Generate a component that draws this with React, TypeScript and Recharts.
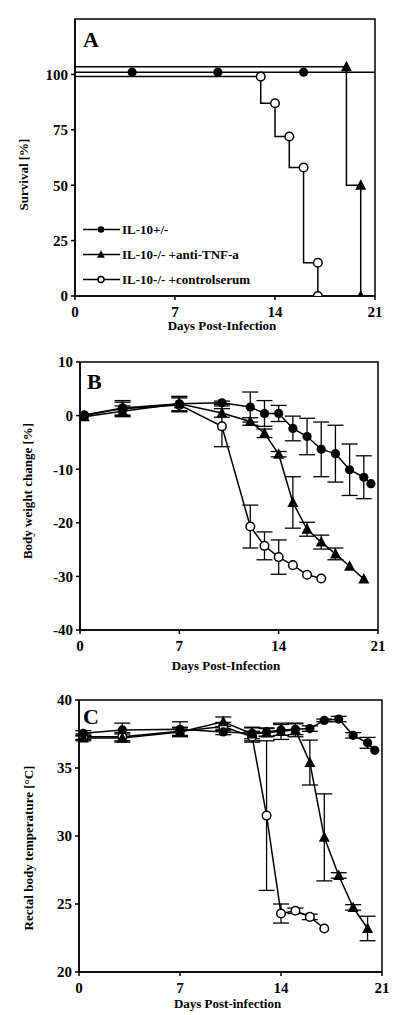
import { LineChart, Line, XAxis, YAxis, ErrorBar, ReferenceArea } from "recharts";

const FONT = '"Liberation Serif", "Times New Roman", serif';

const groups = ["IL-10+/-", "IL-10-/- +anti-TNF-a", "IL-10-/- +controlserum"];
const dayTicks = [0, 7, 14, 21];

// A: survival (step curves), mark = drawn symbol
const survHetDays = [0, 4, 10, 16, 21];
const survHet = [101, 101, 101, 101, 101];
const survHetMark = [false, true, true, true, false];
const survTnfDays = [0, 19, 20, 20];
const survTnf = [103.5, 103.5, 50, 0];
const survTnfMark = [false, true, true, true];
const survCtlDays = [0, 13, 14, 15, 16, 17, 17];
const survCtl = [99, 99, 87, 72, 58, 15, 0];
const survCtlMark = [false, true, true, true, true, true, true];
const survTicks = [0, 25, 50, 75, 100];

// B: body weight change
const wHetDays = [0.3, 3, 7, 10, 12, 13, 14, 15, 16, 17, 18, 19, 20, 20.5];
const wHet = [0.1, 1.4, 2.2, 2.4, 1.6, 0.4, 0.4, -2.4, -3.9, -6.3, -7.1, -10.1, -11.5, -12.7];
const wHetErr = [0, 1.4, 1.3, 0.3, 2.8, 2.4, 1.5, 2.3, 3.4, 5.1, 5.3, 4.8, 4.0, 0];
const wTnfDays = [0.3, 3, 7, 10, 12, 13, 14, 15, 16, 17, 18, 19, 20];
const wTnf = [-0.2, 0.8, 2.2, 0.5, -1.1, -3.3, -7.2, -16.2, -21.2, -23.6, -25.8, -28.1, -30.5];
const wTnfErr = [0, 1, 1.4, 0.8, 0.7, 0.8, 0.5, 4.8, 1.3, 1.3, 1.1, 0, 0];
const wCtlDays = [0.3, 3, 7, 10, 12, 13, 14, 15, 16, 17];
const wCtl = [0, 1.3, 2.0, -2.0, -20.7, -24.3, -26.4, -27.9, -29.7, -30.4];
const wCtlErr = [0, 1.2, 1.3, 3.8, 4.0, 2.6, 3.2, 0, 0, 0];
const weightTicks = [-40, -30, -20, -10, 0, 10];

// C: rectal temperature
const tHetDays = [0.3, 3, 7, 10, 12, 13, 14, 15, 16, 17, 18, 19, 20, 20.5];
const tHet = [37.55, 37.8, 37.85, 37.65, 37.55, 37.65, 37.8, 37.85, 37.9, 38.5, 38.6, 37.4, 36.85, 36.3];
const tHetErr = [0.2, 0.5, 0.55, 0.2, 0.4, 0.3, 0.4, 0.4, 0.2, 0.1, 0.2, 0.2, 0.4, 0];
const tTnfDays = [0.3, 3, 7, 10, 12, 13, 14, 15, 16, 17, 18, 19, 20];
const tTnf = [37.2, 37.2, 37.65, 38.4, 37.5, 37.6, 37.7, 37.8, 35.4, 29.9, 27.1, 24.75, 23.2];
const tTnfErr = [0.2, 0.3, 0.3, 0.35, 0.5, 0.3, 0.6, 0.5, 1.65, 3.2, 0.2, 0.2, 0.9];
const tCtlDays = [0.3, 3, 7, 10, 12, 13, 14, 15, 16, 17];
const tCtl = [37.3, 37.3, 37.7, 38.05, 37.3, 31.5, 24.3, 24.5, 24.05, 23.2];
const tCtlErr = [0.2, 0.3, 0.3, 0.3, 0.4, 5.5, 0.7, 0.2, 0.2, 0];
const tempTicks = [20, 25, 30, 35, 40];

const rows = (days, vals, errs?, marks?) =>
  days.map((d, i) => ({ day: d, v: vals[i], err: errs ? errs[i] : 0, mark: marks ? marks[i] : true }));

const Marker = ({ kind, cx, cy, s = 1 }) => {
  if (kind === "tri") {
    const w = 5.5 * s;
    return (
      <polygon
        points={`${cx},${cy - 6 * s} ${cx + w},${cy + 4.5 * s} ${cx - w},${cy + 4.5 * s}`}
        fill="#000"
      />
    );
  }
  if (kind === "open")
    return <circle cx={cx} cy={cy} r={4.3 * s} fill="#fff" stroke="#000" strokeWidth={1.5} />;
  return <circle cx={cx} cy={cy} r={4.6 * s} fill="#000" />;
};

const dotFor = (kind) => (p) => {
  const { cx, cy, index, payload } = p;
  if (!payload || payload.mark === false || cx == null) return <g key={`n${index}`} />;
  return <Marker key={`m${index}`} kind={kind} cx={cx} cy={cy} />;
};

const tickStyle = { fill: "#000", fontSize: 15, fontWeight: 700, fontFamily: FONT };
const titleStyle = { fill: "#000", fontSize: 13, fontWeight: 700, fontFamily: FONT };

function Panel({ top, height, margin, yWidth, domain, yTicks, yTitle, yShift, xTitle, xShift, letter, letterOffset, series, step }) {
  return (
    <div style={{ position: "absolute", left: 0, top }}>
      <LineChart width={400} height={height} margin={margin}>
        <XAxis
          type="number"
          dataKey="day"
          domain={[0, 21]}
          ticks={dayTicks}
          allowDataOverflow
          height={40}
          tick={tickStyle}
          tickSize={4}
          tickMargin={6}
          axisLine={{ stroke: "#000", strokeWidth: 1.5 }}
          tickLine={{ stroke: "#000", strokeWidth: 1.5 }}
          label={{ value: xTitle, position: "center", dx: -3, dy: xShift, ...titleStyle }}
        />
        <YAxis
          type="number"
          domain={domain}
          ticks={yTicks}
          allowDataOverflow
          width={yWidth}
          tick={tickStyle}
          tickSize={4}
          tickMargin={3}
          axisLine={{ stroke: "#000", strokeWidth: 1.5 }}
          tickLine={{ stroke: "#000", strokeWidth: 1.5 }}
          label={{ value: yTitle, angle: -90, position: "center", dx: yShift[0], dy: yShift[1], ...titleStyle }}
        />
        <ReferenceArea
          x1={0}
          x2={21}
          y1={domain[0]}
          y2={domain[1]}
          fill="none"
          stroke="#000"
          strokeWidth={1.5}
          ifOverflow="visible"
          label={{
            value: letter,
            position: "insideTopLeft",
            offset: letterOffset[0],
            dy: letterOffset[1],
            fill: "#000",
            fontSize: 22,
            fontWeight: 700,
            fontFamily: FONT,
          }}
        />
        {series.map((s) => (
          <Line
            key={s.name}
            name={s.name}
            data={s.data}
            dataKey="v"
            type={step ? "stepBefore" : "linear"}
            stroke="#000"
            strokeWidth={1.5}
            dot={dotFor(s.kind)}
            activeDot={false}
            isAnimationActive={false}
          >
            {!step && <ErrorBar dataKey="err" direction="y" width={8} stroke="#000" strokeWidth={1.3} />}
          </Line>
        ))}
      </LineChart>
    </div>
  );
}

const LegendBox = () => (
  <div style={{ position: "absolute", left: 83, top: 217, fontFamily: FONT, fontSize: 13, fontWeight: 700 }}>
    {groups.map((g, i) => (
      <div key={g} style={{ display: "flex", alignItems: "center", height: 25 }}>
        <svg width={37} height={25}>
          <line x1={0} y1={12.5} x2={37} y2={12.5} stroke="#000" strokeWidth={1.5} />
          <Marker kind={["fill", "tri", "open"][i]} cx={18} cy={12.5} s={0.7} />
        </svg>
        <span style={{ marginLeft: 2, whiteSpace: "nowrap" }}>{g}</span>
      </div>
    ))}
  </div>
);

export default function App() {
  return (
    <div style={{ position: "absolute", left: 0, top: 0, width: 400, height: 1015, background: "#fff" }}>
      <Panel
        top={0}
        height={340}
        margin={{ top: 19, right: 25, bottom: 4, left: 0 }}
        yWidth={75}
        domain={[0, 125]}
        yTicks={survTicks}
        yTitle="Survival [%]"
        yShift={[-14, 17]}
        xTitle="Days Post-Infection"
        xShift={9.5}
        letter="A"
        letterOffset={[8, 4]}
        step
        series={[
          { name: groups[2], kind: "open", data: rows(survCtlDays, survCtl, null, survCtlMark) },
          { name: groups[1], kind: "tri", data: rows(survTnfDays, survTnf, null, survTnfMark) },
          { name: groups[0], kind: "fill", data: rows(survHetDays, survHet, null, survHetMark) },
        ]}
      />
      <div style={{ position: "absolute", left: 0, top: 0 }}>
        <LegendBox />
      </div>
      <Panel
        top={340}
        height={340}
        margin={{ top: 22, right: 22, bottom: 10, left: 0 }}
        yWidth={80}
        domain={[-40, 10]}
        yTicks={weightTicks}
        yTitle="Body weight change [%]"
        yShift={[-13, -5]}
        xTitle="Days Post-Infection"
        xShift={15}
        letter="B"
        letterOffset={[7, 4]}
        series={[
          { name: groups[2], kind: "open", data: rows(wCtlDays, wCtl, wCtlErr) },
          { name: groups[1], kind: "tri", data: rows(wTnfDays, wTnf, wTnfErr) },
          { name: groups[0], kind: "fill", data: rows(wHetDays, wHet, wHetErr) },
        ]}
      />
      <Panel
        top={670}
        height={345}
        margin={{ top: 30, right: 18, bottom: 3, left: 0 }}
        yWidth={79}
        domain={[20, 40]}
        yTicks={tempTicks}
        yTitle="Rectal body temperature [°C]"
        yShift={[-11.5, 12]}
        xTitle="Days Post-infection"
        xShift={11}
        letter="C"
        letterOffset={[4, 4]}
        series={[
          { name: groups[2], kind: "open", data: rows(tCtlDays, tCtl, tCtlErr) },
          { name: groups[1], kind: "tri", data: rows(tTnfDays, tTnf, tTnfErr) },
          { name: groups[0], kind: "fill", data: rows(tHetDays, tHet, tHetErr) },
        ]}
      />
    </div>
  );
}
